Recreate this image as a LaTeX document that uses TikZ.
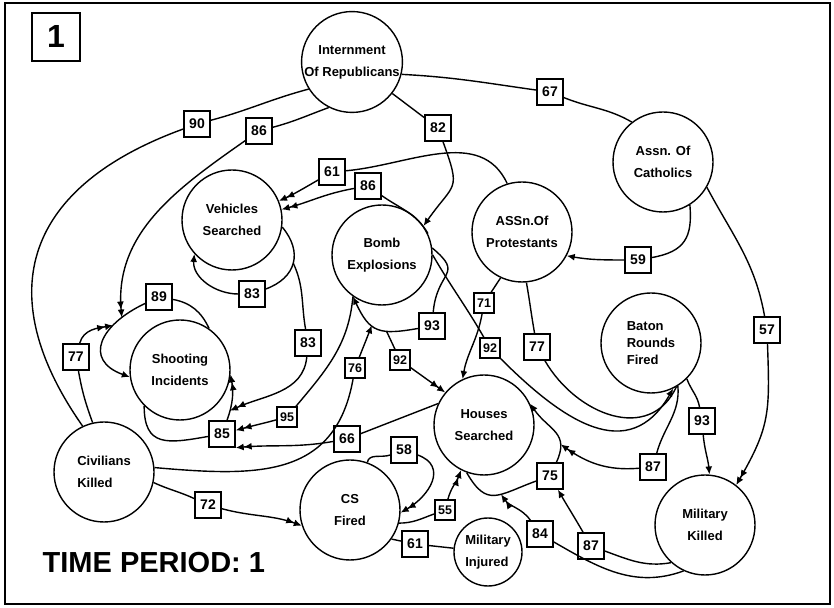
\documentclass[tikz,border=0pt]{standalone}
\usepackage{fontspec}
\setmainfont{Liberation Sans}
\usetikzlibrary{arrows.meta}

\begin{document}
\begin{tikzpicture}[x=1pt,y=1pt,line width=1.4pt,>={Latex[length=8pt,width=7pt]}]
  \tikzstyle{ev}=[draw,circle,minimum size=100pt,inner sep=0pt,align=center,font=\bfseries\fontsize{13}{22}\selectfont]
  \tikzstyle{num}=[draw,fill=white,rectangle,minimum size=26pt,inner sep=1pt,font=\bfseries\fontsize{14}{14}\selectfont]
  \tikzstyle{snum}=[num,minimum size=20pt,font=\bfseries\fontsize{12.5}{12.5}\selectfont]

  \useasboundingbox (0,0) rectangle (834,607);
  \draw[line width=2.5pt] (5,3) rectangle (830,604);

  \node[draw,minimum size=48pt,font=\bfseries\fontsize{32}{32}\selectfont] (P) at (56,570) {1};
  \node[anchor=west,inner sep=0pt,font=\bfseries\fontsize{29}{29}\selectfont] (T) at (42,44) {TIME PERIOD: 1};

  \node[ev] (IR) at (352,545) {Internment\\Of Republicans};
  \node[ev] (AC) at (663,445) {Assn. Of\\Catholics};
  \node[ev] (AP) at (522,375) {ASSn.Of\\Protestants};
  \node[ev] (VS) at (232,387) {Vehicles\\Searched};
  \node[ev] (BE) at (382,352) {Bomb\\Explosions};
  \node[ev] (SI) at (180,237) {Shooting\\Incidents};
  \node[ev,align=left] (CK) at (104,135) {Civilians\\Killed};
  \node[ev] (CS) at (350,97) {CS\\Fired};
  \node[ev] (HS) at (484,182) {Houses\\Searched};
  \node[ev,align=left,font=\bfseries\fontsize{13}{17}\selectfont] (BR) at (651,264) {Baton\\Rounds\\Fired};
  \node[ev] (MK) at (705,82) {Military\\Killed};
  \node[ev,align=left,minimum size=68pt] (MI) at (488,55) {Military\\Injured};

  \node[num] (n90) at (197,483) {90};
  \node[num] (n86a) at (259,476) {86};
  \node[num] (n82) at (438,479) {82};
  \node[num] (n67) at (550,515) {67};
  \node[num] (n61a) at (332,435) {61};
  \node[num] (n86b) at (368,421) {86};
  \node[num] (n59) at (638,347) {59};
  \node[num] (n83a) at (252,313) {83};
  \node[num] (n89) at (159,310) {89};
  \node[num] (n77a) at (76,250) {77};
  \node[num] (n83b) at (308,264) {83};
  \node[snum] (n76) at (355,239) {76};
  \node[snum] (n95) at (287,190) {95};
  \node[num] (n85) at (222,173) {85};
  \node[num] (n66) at (347,168) {66};
  \node[num] (n72) at (208,102) {72};
  \node[num] (n58) at (404,157) {58};
  \node[snum] (n55) at (445,97) {55};
  \node[num] (n61b) at (415,63) {61};
  \node[num] (n93a) at (432,281) {93};
  \node[snum] (n92a) at (400,247) {92};
  \node[snum] (n71) at (484,304) {71};
  \node[snum] (n92b) at (490,259) {92};
  \node[num] (n77b) at (537,260) {77};
  \node[num] (n57) at (767,277) {57};
  \node[num] (n93b) at (702,186) {93};
  \node[num] (n87a) at (653,140) {87};
  \node[num] (n75) at (550,131) {75};
  \node[num] (n84) at (540,73) {84};
  \node[num] (n87b) at (591,61) {87};

  \draw (IR.-14) to[out=-3,in=172] (n67) to[out=-22,in=150] (AC.128);
  \draw (IR.212) to[out=195,in=15] (n90) to[out=200,in=125,looseness=1.35] (CK.115);
  \draw[->] (IR.-38) -- (n82) to[out=-70,in=55,looseness=1.6] (BE.35);

  \draw[->] (SI.55) to[out=115,in=-10] (n89) to[out=205,in=160,looseness=1.7] coordinate[pos=0.2] (s86) coordinate[pos=0.3] (s77) (SI.188);
  \draw[->>] (IR.243) to[out=200,in=15] (n86a) to[out=215,in=95] (s86);
  \draw[->>] (CK.103) to[out=110,in=-80] (n77a) to[out=75,in=190] (s77);
  \draw[->>] (SI.225) to[out=-90,in=190,looseness=1.5] (n85) to[out=70,in=-80] coordinate[pos=0.2] (s83) (SI.-5);

  \draw[->] (VS.-8) to[out=-50,in=20,looseness=1.3] coordinate[pos=0.5] (v83) (n83a) to[out=180,in=-95] (VS.222);
  \draw[->>] (v83) to[out=-65,in=100] (n83b) to[out=-95,in=25] (s83);

  \draw[->] (BE.8) to[out=-40,in=85,looseness=1.7] (n93a) to[out=190,in=-65,looseness=1.4] coordinate[pos=0.35] (s92) coordinate[pos=0.6] (s76) (BE.235);
  \draw[->>] (s92) -- (n92a) -- (HS.140);
  \draw[->] (CK.5) to[out=-5,in=-100,looseness=1.2] (n76) -- (s76);
  \draw[->>] (BE.235) to[out=-95,in=50] (n95) to[out=195,in=15] (n85);
  \draw[->>] (HS.155) -- (n66) to[out=190,in=5] (n85.south east);

  \draw[->>] (AP.107) to[out=115,in=5] (n61a) to[out=210,in=25] (VS.22);
  \draw[->>] (BE.25) to[out=120,in=-35] (n86b) to[out=190,in=15] (VS.12);
  \draw[->] (AC.-58) to[out=-85,in=10,looseness=1.3] (n59) to[out=180,in=-10] (AP.-28);
  \draw[->>] (AC.-30) to[out=-62,in=100] (n57) to[out=-88,in=60,looseness=1.2] (MK.52);
  \draw[->] (AP.245) -- (n71) to[out=-100,in=80] (HS.115);
  \draw (AP.-85) to[out=-80,in=100] (n77b) to[out=-60,in=-115,looseness=1.2] (BR.-60);
  \draw[->] (BE.0) to[out=-60,in=120] (n92b) to[out=-45,in=-120,looseness=1.3] (BR.-64);
  \draw[->] (BR.-45) to[out=-70,in=100] (n93b) to[out=-85,in=95] (MK.85);

  \draw[->] (HS.250) to[out=-60,in=200,looseness=1.5] coordinate[pos=0.6] (s84) (n75) to[out=65,in=-55,looseness=1.3] coordinate[pos=0.25] (s87) (HS.25);
  \draw[->>] (BR.-58) to[out=-85,in=75] (n87a) to[out=185,in=-35] (s87);
  \draw[->>] (MK.245) to[out=200,in=-30] (n84) to[out=125,in=-55] (s84);
  \draw[->] (MK.228) to[out=190,in=-20] (n87b) to[out=120,in=-60] (n75);

  \draw[->>] (CK.-12) to[out=-25,in=155] (n72) to[out=-15,in=160] (CS.198);
  \draw[->>] (CS.70) to[out=80,in=200] (n58) to[out=-20,in=30,looseness=1.4] (CS.-3);
  \draw[->>] (CS.-15) to[out=0,in=200] (n55) to[out=75,in=-110] (HS.243);
  \draw (CS.-35) -- (n61b) -- (MI);
\end{tikzpicture}
\end{document}
